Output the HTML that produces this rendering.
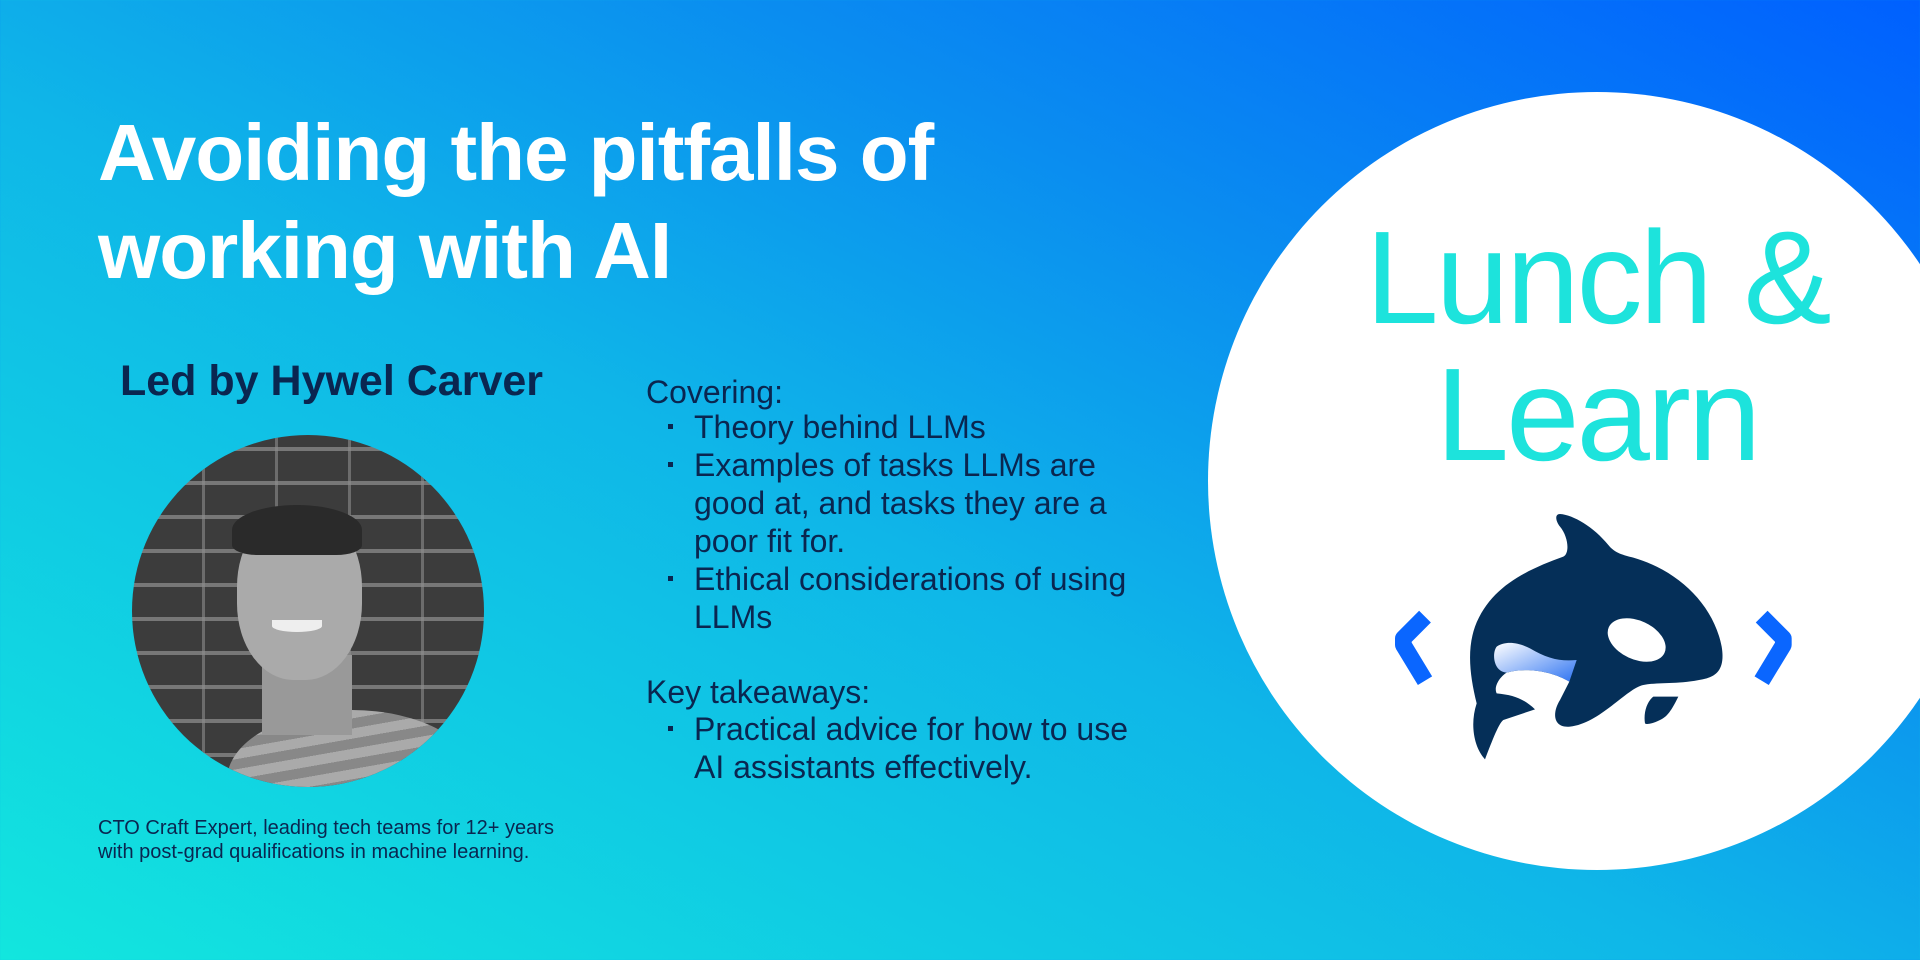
<!DOCTYPE html>
<html><head><meta charset="utf-8"><style>
*{margin:0;padding:0;box-sizing:border-box}
body{width:1920px;height:960px;overflow:hidden;position:relative;font-family:"Liberation Sans",sans-serif;
background:linear-gradient(to top right,#12e6de 0%,#0fb6e8 45%,#0a8cf0 70%,#0060ff 100%);}
.t{position:absolute;white-space:nowrap;line-height:1}
.title{color:#fff;font-size:80px;font-weight:bold;letter-spacing:-1px;left:98px}
.navy{color:#0a2650}
.cov{font-size:32px;left:646px}
.li{font-size:32px;left:694px}
.bul{position:absolute;left:668px;width:5px;height:5px;background:#0a2650}
.lunch{color:#1de3dc;font-size:132px;letter-spacing:-3px;width:800px;text-align:center;left:1197px}
</style></head><body>
<div class="t title" style="top:113px">Avoiding the pitfalls of</div>
<div class="t title" style="top:211px">working with AI</div>
<div class="t navy" style="left:120px;top:360px;font-size:43px;font-weight:bold">Led by Hywel Carver</div>

<div style="position:absolute;left:132px;top:435px;width:352px;height:352px;border-radius:50%;overflow:hidden;
background:repeating-linear-gradient(0deg,#3c3c3c 0 30px,#777 30px 34px),#444;">
 <div style="position:absolute;left:0;top:0;width:100%;height:100%;background:repeating-linear-gradient(90deg,transparent 0 70px,rgba(140,140,140,.6) 70px 73px)"></div>
 <div style="position:absolute;left:95px;top:275px;width:250px;height:140px;border-radius:50% 50% 0 0;background:repeating-linear-gradient(170deg,#aaa 0 10px,#888 10px 20px)"></div>
 <div style="position:absolute;left:130px;top:220px;width:90px;height:80px;background:#999"></div>
 <div style="position:absolute;left:105px;top:75px;width:125px;height:170px;border-radius:45%;background:#aaa"></div>
 <div style="position:absolute;left:100px;top:70px;width:130px;height:50px;border-radius:50% 50% 20% 20%;background:#2a2a2a"></div>
 <div style="position:absolute;left:140px;top:185px;width:50px;height:12px;border-radius:0 0 50% 50%;background:#eee"></div>
</div>

<div class="t navy" style="left:98px;top:818px;font-size:20px">CTO Craft Expert, leading tech teams for 12+ years</div>
<div class="t navy" style="left:98px;top:842px;font-size:20px">with post-grad qualifications in machine learning.</div>

<div class="t navy cov" style="top:376px">Covering:</div>
<div class="bul" style="top:424px"></div><div class="t navy li" style="top:411px">Theory behind LLMs</div>
<div class="bul" style="top:462px"></div><div class="t navy li" style="top:449px">Examples of tasks LLMs are</div>
<div class="t navy li" style="top:487px">good at, and tasks they are a</div>
<div class="t navy li" style="top:525px">poor fit for.</div>
<div class="bul" style="top:576px"></div><div class="t navy li" style="top:563px">Ethical considerations of using</div>
<div class="t navy li" style="top:601px">LLMs</div>
<div class="t navy cov" style="top:676px">Key takeaways:</div>
<div class="bul" style="top:726px"></div><div class="t navy li" style="top:713px">Practical advice for how to use</div>
<div class="t navy li" style="top:751px">AI assistants effectively.</div>

<div style="position:absolute;left:1208px;top:92px;width:778px;height:778px;border-radius:50%;background:#fff"></div>
<div class="t lunch" style="top:212px">Lunch &amp;</div>
<div class="t lunch" style="top:349px">Learn</div>

<svg style="position:absolute;left:1360px;top:490px" width="460" height="280" viewBox="0 0 1380 840">
<defs><linearGradient id="g" x1="0" y1="0" x2="1" y2="1"><stop offset="0" stop-color="#fff"/><stop offset="1" stop-color="#2f74f2"/></linearGradient></defs>
<polyline points="195,380 130,445 130,465 195,572" fill="none" stroke="#0a66ff" stroke-width="50" stroke-linejoin="round"/>
<polyline points="1205,380 1270,445 1270,465 1205,572" fill="none" stroke="#0a66ff" stroke-width="50" stroke-linejoin="round"/>
<path fill="#052f58" d="M600,72 C640,75 700,110 745,165 C765,190 790,195 820,203 C950,240 1060,340 1085,470 C1095,530 1075,555 1040,565 C960,585 900,575 850,585 C800,595 720,700 630,710 C580,715 575,670 600,630 L628,575 C580,545 500,530 440,548 C420,560 400,590 410,610 C460,615 490,625 525,658 L430,690 C415,700 390,770 375,808 C340,770 330,700 350,640 C330,560 320,480 345,410 C390,290 500,240 610,200 C630,190 625,140 600,110 C585,90 585,72 600,72 Z"/>
<path fill="url(#g)" d="M410,470 C440,450 480,460 510,475 C560,505 600,515 650,510 L628,575 C580,545 500,530 440,548 C400,545 395,490 410,470 Z"/>
<ellipse cx="830" cy="450" rx="92" ry="58" transform="rotate(25 830 450)" fill="#fff"/>
<path fill="#052f58" d="M880,620 L955,620 C940,650 925,680 900,690 C880,700 860,705 855,700 C850,670 860,635 880,620 Z"/>
</svg>
</body></html>
